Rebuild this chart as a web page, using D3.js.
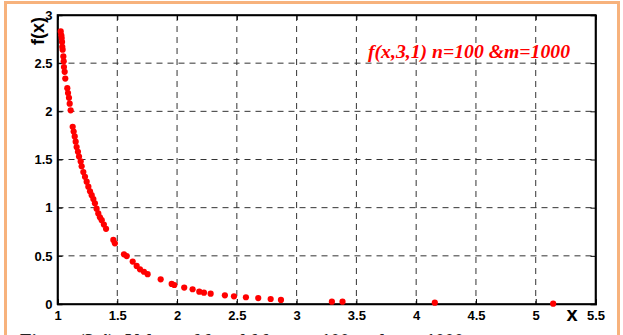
<!DOCTYPE html>
<html>
<head>
<meta charset="utf-8">
<script src="https://cdn.jsdelivr.net/npm/d3@7"></script>
<style>
  html, body { margin: 0; padding: 0; background: #fff; overflow: hidden; }
  svg { display: block; }
</style>
</head>
<body>
<svg width="623" height="335"></svg>
<script>
// values
const xs = [1.027, 1.032, 1.035, 1.038, 1.040, 1.043, 1.049, 1.052, 1.054, 1.060,
  1.065, 1.082, 1.088, 1.096, 1.102, 1.110, 1.127, 1.135, 1.144, 1.152,
  1.160, 1.171, 1.180, 1.194, 1.202, 1.216, 1.230, 1.244, 1.258, 1.272,
  1.286, 1.300, 1.313, 1.327, 1.341, 1.355, 1.370, 1.388, 1.406, 1.467,
  1.480, 1.556, 1.579, 1.629, 1.662, 1.690, 1.723, 1.754, 1.863, 1.955,
  1.977, 2.060, 2.130, 2.186, 2.225, 2.281, 2.400, 2.476, 2.576, 2.679,
  2.783, 2.869, 3.295, 3.384, 4.156, 5.146]
const fx = [2.83, 2.79, 2.76, 2.72, 2.67, 2.64, 2.57, 2.52, 2.46, 2.41,
  2.34, 2.24, 2.19, 2.14, 2.08, 2.01, 1.84, 1.79, 1.74, 1.685,
  1.63, 1.58, 1.53, 1.48, 1.43, 1.37, 1.32, 1.27, 1.218, 1.17,
  1.13, 1.09, 1.046, 0.99, 0.94, 0.90, 0.87, 0.825, 0.78, 0.665,
  0.63, 0.516, 0.498, 0.44, 0.395, 0.36, 0.335, 0.31, 0.256, 0.208,
  0.197, 0.17, 0.153, 0.128, 0.118, 0.107, 0.09, 0.08, 0.07, 0.062,
  0.052, 0.042, 0.024, 0.024, 0.014, 0.003]
const xTicks = [1, 1.5, 2, 2.5, 3, 3.5, 4, 4.5, 5, 5.5]
const yTicks = [0, 0.5, 1, 1.5, 2, 2.5, 3]
const xTickLabels = ['1', '1.5', '2', '2.5', '3', '3.5', '4', '4.5', '5', '5.5']
const yTickLabels = ['0', '0.5', '1', '1.5', '2', '2.5', '3']
const legendText = 'f(x,3,1) n=100 &m=1000'
const captionText = 'Figure (3.4): Values of  f  and f  for n = 100 and m = 1000'

const points = xs.map((x, i) => ({ x, y: fx[i] }))

const svg = d3.select('svg')
const mLeft = 57.5, mRight = 595.5, mTop = 15, mBottom = 304

const x = d3.scaleLinear().domain([1, 5.5]).range([mLeft, mRight])
const y = d3.scaleLinear().domain([0, 3]).range([mBottom, mTop])

// orange frame
svg.append('path')
  .attr('d', `M5.5,340 V2.5 H618.5 V340`)
  .attr('fill', 'none')
  .attr('stroke', '#f7b27c')
  .attr('stroke-width', 3)

// grid
let grid = svg.append('g')
grid.selectAll('.gx')
  .data(xTicks.slice(1, -1))
  .enter()
  .append('line')
    .attr('x1', d => x(d)).attr('x2', d => x(d))
    .attr('y1', mTop).attr('y2', mBottom)
grid.selectAll('.gy')
  .data(yTicks.slice(1, -1))
  .enter()
  .append('line')
    .attr('x1', mLeft).attr('x2', mRight)
    .attr('y1', d => y(d)).attr('y2', d => y(d))
grid.selectAll('line')
  .attr('stroke', '#333')
  .attr('stroke-width', 1)
  .attr('stroke-dasharray', '6,5')

// axes (ticks inside)
let xAxis = d3.axisBottom(x).tickValues(xTicks).tickSize(-5).tickFormat((d, i) => xTickLabels[i])
let yAxis = d3.axisLeft(y).tickValues(yTicks).tickSize(-5).tickFormat((d, i) => yTickLabels[i])

svg.append('g')
  .attr('transform', `translate(0,${mBottom})`)
  .call(xAxis)
  .call(g => g.selectAll('text').attr('dy', '0.71em').attr('y', 7))
svg.append('g')
  .attr('transform', `translate(${mLeft},0)`)
  .call(yAxis)
  .call(g => g.selectAll('text').attr('x', -5))
svg.append('g')
  .attr('transform', `translate(0,${mTop})`)
  .call(d3.axisTop(x).tickValues(xTicks).tickSize(-5).tickFormat(''))
svg.append('g')
  .attr('transform', `translate(${mRight},0)`)
  .call(d3.axisRight(y).tickValues(yTicks).tickSize(-5).tickFormat(''))

svg.selectAll('.domain').attr('stroke', '#000').attr('stroke-width', 1.6)
svg.selectAll('.tick line').attr('stroke', '#000')
svg.selectAll('.tick text')
  .attr('font-family', 'Liberation Sans, Arial, sans-serif')
  .attr('font-weight', 'bold')
  .attr('font-size', 13)
  .attr('fill', '#000')

// box edges
svg.append('rect')
  .attr('x', mLeft).attr('y', mTop)
  .attr('width', mRight - mLeft).attr('height', mBottom - mTop)
  .attr('fill', 'none')
  .attr('stroke', '#000')
  .attr('stroke-width', 1.6)

// points
svg.append('g')
  .selectAll('circle')
  .data(points)
  .enter()
  .append('circle')
    .attr('cx', d => x(d.x))
    .attr('cy', d => y(d.y))
    .attr('r', 3.1)
    .attr('fill', '#ff0000')

// axis titles
svg.append('text')
  .attr('transform', `translate(44,31) rotate(-90)`)
  .attr('text-anchor', 'middle')
  .attr('font-family', 'Liberation Sans, Arial, sans-serif')
  .attr('font-weight', 'bold')
  .attr('font-size', 18)
  .text('f(x)')
svg.append('text')
  .attr('x', 572).attr('y', 321)
  .attr('text-anchor', 'middle')
  .attr('font-family', 'Liberation Sans, Arial, sans-serif')
  .attr('font-weight', 'bold')
  .attr('font-size', 20)
  .text('x')

// annotation
svg.append('text')
  .attr('x', 368).attr('y', 58)
  .attr('textLength', 202)
  .attr('lengthAdjust', 'spacingAndGlyphs')
  .attr('font-family', 'Liberation Serif, Times New Roman, serif')
  .attr('font-weight', 'bold')
  .attr('font-style', 'italic')
  .attr('font-size', 18)
  .attr('fill', '#ff0000')
  .text(legendText)

// caption, cut off by the bottom edge
svg.append('text')
  .attr('x', 20).attr('y', 347)
  .attr('font-family', 'Liberation Serif, Times New Roman, serif')
  .attr('font-weight', 'bold')
  .attr('font-size', 19)
  .attr('fill', '#222')
  .text(captionText)
</script>
</body>
</html>
